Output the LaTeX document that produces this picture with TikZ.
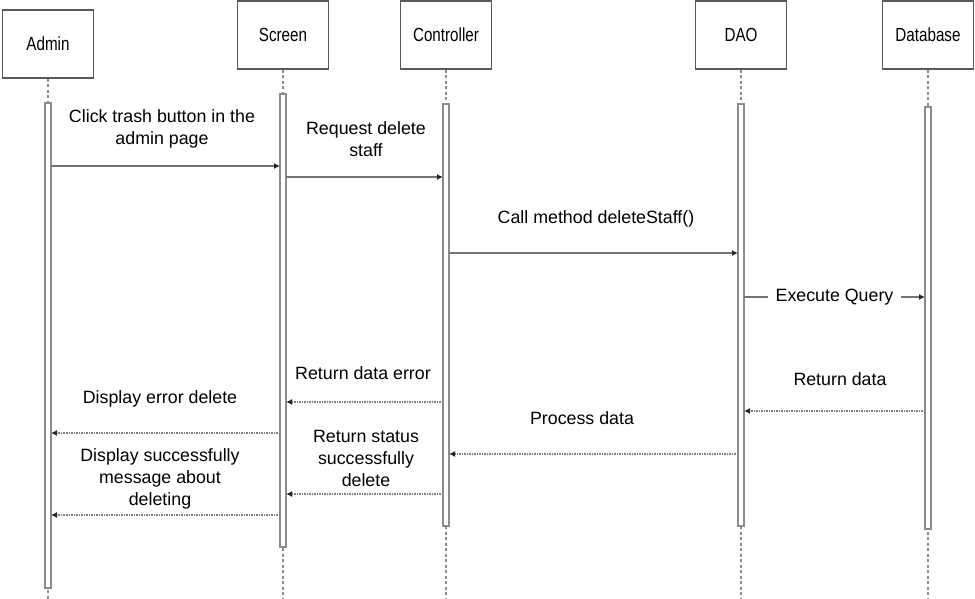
\documentclass[tikz,border=0pt]{standalone}
\usepackage{fontspec}
\setmainfont{Liberation Sans}
\newfontfamily\headfont[FakeStretch=0.8]{Liberation Sans}
\usetikzlibrary{arrows.meta}

\begin{document}
\begin{tikzpicture}[x=1pt,y=-1pt,
  head/.style={draw=black!65, line width=1.6pt, fill=white, minimum width=91pt,
    minimum height=68pt, inner sep=0, font=\headfont\fontsize{19}{21}\selectfont},
  bar/.style={draw=black!45, line width=1.6pt, fill=white, minimum width=6.5pt, inner sep=0},
  life/.style={draw=black!45, line width=1.1pt, dash pattern=on 3pt off 2.5pt},
  tip/.style={-{Latex[length=6pt,width=6pt,color=black!85]}},
  call/.style={tip, draw=black!55, line width=1.6pt},
  ret/.style={tip, draw=black!50, line width=1.6pt, dash pattern=on 1.5pt off 1pt},
  lbl/.style={font=\fontsize{17.8}{22}\selectfont, align=center, inner sep=0},
]
\useasboundingbox (0,0) rectangle (975,599);

% participants
\node[head] (hA) at (48,44) {Admin};
\node[head] (hS) at (283,35) {Screen};
\node[head] (hC) at (446,35) {Controller};
\node[head] (hD) at (741,35) {DAO};
\node[head] (hB) at (928,35) {Database};

% lifeline ends
\coordinate (eA) at (48,599);
\coordinate (eS) at (283,599);
\coordinate (eC) at (446,599);
\coordinate (eD) at (741,599);
\coordinate (eB) at (928,599);

\draw[life] (hA.south) -- (eA);
\draw[life] (hS.south) -- (eS);
\draw[life] (hC.south) -- (eC);
\draw[life] (hD.south) -- (eD);
\draw[life] (hB.south) -- (eB);

% activation bars
\node[bar, minimum height=485pt] (bA) at (48,345.5) {};
\node[bar, minimum height=453pt] (bS) at (283,320.5) {};
\node[bar, minimum height=422pt] (bC) at (446,315) {};
\node[bar, minimum height=422pt] (bD) at (741,315) {};
\node[bar, minimum height=422pt] (bB) at (928,318) {};

% message end points on the bars
\coordinate (m1a) at (51,166);   \coordinate (m1b) at (280,166);
\coordinate (m2a) at (286,177);  \coordinate (m2b) at (443,177);
\coordinate (m3a) at (449,253);  \coordinate (m3b) at (738,253);
\coordinate (m4a) at (744,297);  \coordinate (m4b) at (925,297);
\coordinate (m5a) at (925,411);  \coordinate (m5b) at (744,411);
\coordinate (m6a) at (443,402);  \coordinate (m6b) at (286,402);
\coordinate (m7a) at (280,433);  \coordinate (m7b) at (51,433);
\coordinate (m8a) at (738,454);  \coordinate (m8b) at (449,454);
\coordinate (m9a) at (443,494);  \coordinate (m9b) at (286,494);
\coordinate (m10a) at (280,515); \coordinate (m10b) at (51,515);

% calls
\draw[call] (m1a) -- (m1b);
\draw[call] (m2a) -- (m2b);
\draw[call] (m3a) -- (m3b);
\draw[call] (m4a) -- node[lbl, fill=white, inner xsep=8pt, inner ysep=3pt] (t4) {Execute Query} (m4b);

% returns
\draw[ret] (m5a) -- (m5b);
\draw[ret] (m6a) -- (m6b);
\draw[ret] (m7a) -- (m7b);
\draw[ret] (m8a) -- (m8b);
\draw[ret] (m9a) -- (m9b);
\draw[ret] (m10a) -- (m10b);

% message labels
\node[lbl] (t1) at (162,129) {Click trash button in the\\admin page};
\node[lbl] (t2) at (366,139) {Request delete\\staff};
\node[lbl] (t3) at (596,219) {Call method deleteStaff()};
\node[lbl] (t5) at (840,379) {Return data};
\node[lbl] (t6) at (363,373) {Return data error};
\node[lbl] (t7) at (160,399) {Display error delete};
\node[lbl] (t8) at (582,418) {Process data};
\node[lbl] (t9) at (366,458.5) {Return status\\successfully\\delete};
\node[lbl] (t10) at (160,478.5) {Display successfully\\message about\\deleting};
\end{tikzpicture}
\end{document}
